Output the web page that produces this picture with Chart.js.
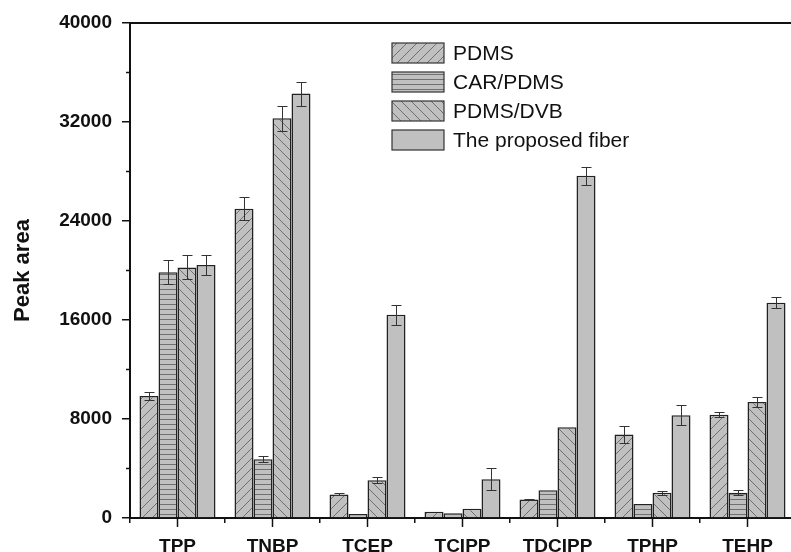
<!DOCTYPE html>
<html><head><meta charset="utf-8">
<script src="https://cdn.jsdelivr.net/npm/chart.js@4.4.0/dist/chart.umd.min.js"></script>
<style>html,body{margin:0;padding:0;background:#fff;overflow:hidden;width:791px;height:552px}
canvas{display:block}</style></head>
<body><canvas id="c" width="800" height="552"></canvas>
<script>
const categories = ['TPP','TNBP','TCEP','TCIPP','TDCIPP','TPHP','TEHP'];
const seriesNames = ['PDMS','CAR/PDMS','PDMS/DVB','The proposed fiber'];
const pdms      = [9850, 25000, 1900, 500, 1500, 6750, 8350];
const pdmsErr   = [350, 900, 80, 0, 60, 670, 200];
const carPdms   = [19850, 4750, 320, 380, 2250, 1130, 2050];
const carPdmsErr= [970, 240, 0, 0, 0, 0, 200];
const pdmsDvb   = [20250, 32300, 3050, 750, 7330, 2050, 9370];
const pdmsDvbErr= [970, 1000, 240, 0, 0, 160, 430];
const proposed  = [20450, 34300, 16430, 3130, 27650, 8300, 17400];
const proposedErr=[800, 970, 800, 890, 740, 820, 430];
const yTicks = [0, 8000, 16000, 24000, 32000, 40000];

const cv = document.getElementById('c');
const mainCtx = cv.getContext('2d');
const FILL = '#c0c0c0';
function makePattern(type){
  const s = type==='h' ? 5 : 10;
  const c = document.createElement('canvas'); c.width = s; c.height = s;
  const g = c.getContext('2d');
  g.fillStyle = FILL; g.fillRect(0,0,s,s);
  if (type !== 'none') {
    g.strokeStyle = '#666'; g.lineWidth = 0.9;
    g.beginPath();
    if (type === '/') { g.moveTo(-1,s+1); g.lineTo(s+1,-1); g.moveTo(-1,1); g.lineTo(1,-1); g.moveTo(s-1,s+1); g.lineTo(s+1,s-1); }
    else if (type === '\\') { g.moveTo(-1,-1); g.lineTo(s+1,s+1); g.moveTo(s-1,-1); g.lineTo(s+1,1); g.moveTo(-1,s-1); g.lineTo(1,s+1); }
    else if (type === 'h') { g.moveTo(0,s-0.5); g.lineTo(s,s-0.5); }
    g.stroke();
  }
  return mainCtx.createPattern(c,'repeat');
}
const fills = [makePattern('/'), makePattern('h'), makePattern('\\'), FILL];
const values = [pdms, carPdms, pdmsDvb, proposed];
const errs = [pdmsErr, carPdmsErr, pdmsDvbErr, proposedErr];

Chart.defaults.font.family = '"Liberation Sans", Arial, sans-serif';
Chart.defaults.color = '#111';

const extras = {
  id: 'extras',
  afterDatasetsDraw(chart){
    const ctx = chart.ctx, ys = chart.scales.y, xs = chart.scales.x, a = chart.chartArea;
    ctx.save();
    // error bars
    ctx.strokeStyle = '#333'; ctx.lineWidth = 1;
    chart.data.datasets.forEach((ds,i)=>{
      const meta = chart.getDatasetMeta(i);
      meta.data.forEach((bar,j)=>{
        const e = errs[i][j]; if (!e) return;
        const v = ds.data[j];
        const t = Math.round(ys.getPixelForValue(v+e))+0.5, b = Math.round(ys.getPixelForValue(v-e))+0.5;
        const x = Math.round(bar.x)+0.5;
        ctx.beginPath();
        ctx.moveTo(x,t); ctx.lineTo(x,b);
        ctx.moveTo(x-5,t); ctx.lineTo(x+5,t);
        ctx.moveTo(x-5,b); ctx.lineTo(x+5,b);
        ctx.stroke();
      });
    });
    // top frame line
    ctx.strokeStyle = '#111'; ctx.lineWidth = 2;
    ctx.beginPath(); ctx.moveTo(a.left, a.top); ctx.lineTo(chart.width, a.top); ctx.stroke();
    // minor y ticks
    ctx.lineWidth = 1.5;
    for (let v = 4000; v < 40000; v += 8000) {
      const y = ys.getPixelForValue(v);
      ctx.beginPath(); ctx.moveTo(a.left-4, y); ctx.lineTo(a.left, y); ctx.stroke();
    }
    // category centre ticks
    categories.forEach((c,j)=>{
      const x = xs.getPixelForValue(j);
      ctx.beginPath(); ctx.moveTo(x, a.bottom); ctx.lineTo(x, a.bottom+9); ctx.stroke();
    });
    // legend
    ctx.font = '21px "Liberation Sans", Arial, sans-serif';
    ctx.textBaseline = 'middle'; ctx.textAlign = 'left';
    chart.data.datasets.forEach((ds,i)=>{
      const bx = 392, by = 43 + i*29, bw = 52, bh = 20;
      ctx.fillStyle = ds.backgroundColor; ctx.fillRect(bx, by, bw, bh);
      ctx.strokeStyle = '#333'; ctx.lineWidth = 1.2; ctx.strokeRect(bx, by, bw, bh);
      ctx.fillStyle = '#111'; ctx.fillText(ds.label, 453, by + bh/2 + 1);
    });
    ctx.restore();
  }
};

new Chart(cv, {
  type: 'bar',
  data: {
    labels: categories,
    datasets: seriesNames.map((n,i)=>({
      label: n, data: values[i], backgroundColor: fills[i],
      borderColor: '#222', borderWidth: 1.5,
      categoryPercentage: 0.8, barPercentage: 1.0
    }))
  },
  options: {
    responsive: false, animation: false, devicePixelRatio: 1,
    layout: { padding: { top: 23, right: 5, left: 0, bottom: 0 } },
    plugins: { legend: { display: false }, tooltip: { enabled: false } },
    scales: {
      x: {
        grid: { display: true, drawOnChartArea: false, offset: true, tickLength: 5, color: '#111', lineWidth: 1.5 },
        border: { display: true, color: '#111', width: 2 },
        ticks: { font: { size: 19, weight: 'bold' }, color: '#111', padding: 12, maxRotation: 0 },
        afterFit(s){ s.height = 34; }
      },
      y: {
        min: 0, max: 40000,
        afterBuildTicks(s){ s.ticks = yTicks.map(v=>({value:v})); },
        grid: { display: true, drawOnChartArea: false, tickLength: 8, color: '#111', lineWidth: 1.5 },
        border: { display: true, color: '#111', width: 2 },
        ticks: { font: { size: 19, weight: 'bold' }, color: '#111', padding: 10, callback: v => String(v) },
        title: { display: true, text: 'Peak area', font: { size: 22, weight: 'bold' }, color: '#111', padding: { top: 10, bottom: 0 } },
        afterFit(s){ s.width = 130; }
      }
    }
  },
  plugins: [extras]
});
</script></body></html>
